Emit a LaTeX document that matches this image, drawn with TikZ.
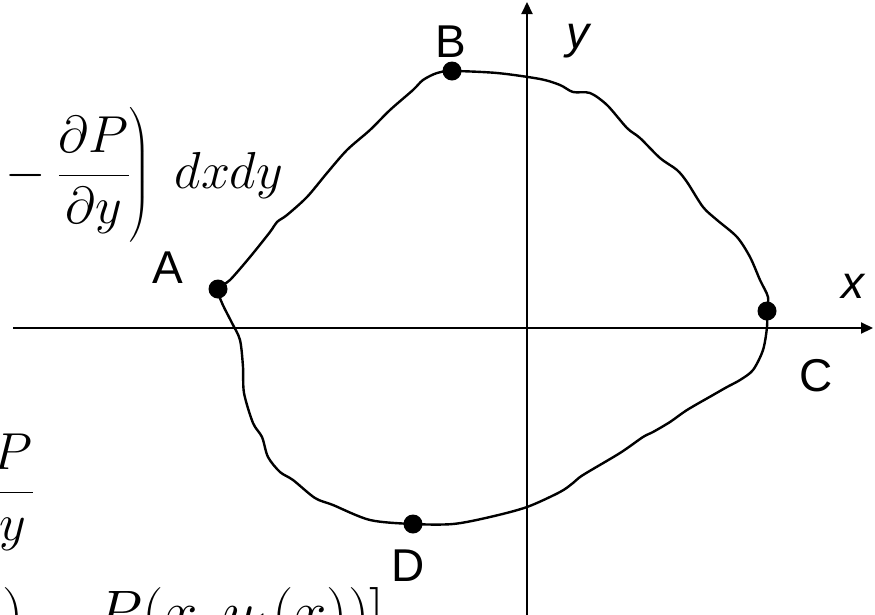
\RequirePackage{fix-cm}
\documentclass[tikz,border=0pt]{standalone}
\usepackage{amsmath}
\usepackage{fontspec}
\newfontfamily\labfont{Liberation Sans}
\usetikzlibrary{arrows.meta}
\begin{document}
\begin{tikzpicture}[x=1pt,y=-1pt,
  axisline/.style={line width=2.1pt,-{Triangle[length=12pt,width=11pt]}},
  loopline/.style={line width=2.4pt,line join=round,line cap=round},
  dotnode/.style={circle,fill=black,inner sep=0pt,minimum size=19pt},
  labnode/.style={font=\labfont\fontsize{46}{55}\selectfont,inner sep=0pt,anchor=base},
  labitnode/.style={font=\labfont\itshape\fontsize{46}{55}\selectfont,inner sep=0pt,anchor=base},
  mathnode/.style={font=\fontsize{52}{62}\selectfont,inner sep=0pt}]
\useasboundingbox (0,0) rectangle (875,614);
\clip (0,0) rectangle (875,614);
% formulas (cut by the picture's edges)
\node[mathnode,anchor=base west] (f1) at (-6,188) {$\mathord{}-\dfrac{\partial P}{\partial y}\biggr)\;\,dxdy$};
\node[mathnode,anchor=base east] (f2) at (34,505) {$\dfrac{\phantom{\partial}P}{\phantom{\partial}y}$};
\node[font=\fontsize{60}{72}\selectfont,inner sep=0pt,anchor=base west] (f3) at (2,632) {$)-P(x,y_1(x))]$};
% axes
\coordinate (xs) at (13,328);
\coordinate (xe) at (873,328);
\coordinate (ys) at (527,620);
\coordinate (ye) at (527,2);
\draw[axisline] (xs) -- (xe);
\draw[axisline] (ys) -- (ye);
% points
\coordinate (pA) at (218,289);
\coordinate (pB) at (452,71);
\coordinate (pC) at (767,311);
\coordinate (pD) at (413,524);
% closed curve
\draw[loopline] plot[smooth cycle,tension=0.5] coordinates {
 (pA) (230,280) (250,257) (270,232) (277,222) (287,215) (307,197) (327,173)
 (347,150) (370,130) (390,110) (413,90) (423,80) (437,73) (pB) (497,73)
 (540,79) (560,85) (573,92) (590,93) (607,105) (627,128) (640,138) (660,158)
 (677,170) (687,182) (703,207) (717,220) (737,237) (750,257) (760,280) (768,297)
 (pC) (767,327) (763,350) (753,370) (740,380) (727,387) (713,395) (687,410)
 (670,422) (653,432) (643,437) (620,453) (583,475) (573,483) (560,492) (527,507)
 (490,517) (453,524) (pD) (370,520) (333,505) (315,498) (293,480) (280,472)
 (268,457) (262,437) (253,423) (244,393) (243,367) (240,340) (232,323) (222,303)};
\node[dotnode] (A) at (pA) {};
\node[dotnode] (B) at (pB) {};
\node[dotnode] (C) at (pC) {};
\node[dotnode] (D) at (pD) {};
% labels
\node[labnode] (lA) at (168,283) {A};
\node[labnode] (lB) at (451,57) {B};
\node[labnode] (lC) at (816,391) {C};
\node[labnode] (lD) at (408,581) {D};
\node[labitnode] (lx) at (853,298) {x};
\node[labitnode] (ly) at (578,48) {y};
\end{tikzpicture}
\end{document}
